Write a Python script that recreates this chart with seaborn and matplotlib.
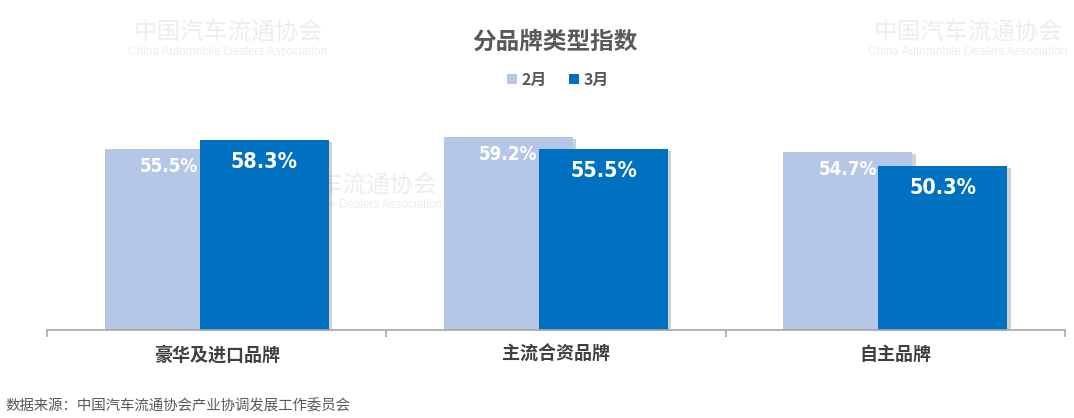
import matplotlib
matplotlib.use("Agg")
import matplotlib.pyplot as plt
import matplotlib.patheffects as pe
from matplotlib.patches import Patch
import seaborn as sns
import pandas as pd

categories = ["豪华及进口品牌", "主流合资品牌", "自主品牌"]
months = ["2月", "3月"]
feb_values = [55.5, 59.2, 54.7]
mar_values = [58.3, 55.5, 50.3]
colors = ["#B4C7E7", "#0070C0"]

title = "分品牌类型指数"
source = "数据来源：中国汽车流通协会产业协调发展工作委员会"
wm_cn = "中国汽车流通协会"
wm_en = "China Automobile Dealers Association"

df = pd.DataFrame({
    "cat": categories * 2,
    "month": [months[0]] * 3 + [months[1]] * 3,
    "val": feb_values + mar_values,
})

sns.set_theme(style="white")
CJK = ["Noto Sans CJK SC", "DejaVu Sans"]
plt.rcParams["font.family"] = CJK

fig = plt.figure(figsize=(10.74, 4.18), dpi=100)
ax = fig.add_axes([47 / 1074, 88 / 418, 1018 / 1074, 228 / 418])
ax.set_facecolor("none")

sns.barplot(data=df, x="cat", y="val", hue="month", palette=colors,
            width=0.56, dodge=True, ax=ax, legend=False, saturation=1,
            errorbar=None)

shadow = [pe.SimplePatchShadow(offset=(2.5, -1.5), shadow_rgbFace="#7F7F7F", alpha=0.35), pe.Normal()]
bar_w = 0.38
for p in ax.patches:
    c = p.get_x() + p.get_width() / 2
    p.set_x(c - bar_w / 2)
    p.set_width(bar_w)
    p.set_path_effects(shadow)
    p.set_edgecolor("none")

for j, cont in enumerate(ax.containers):
    vals = feb_values if j == 0 else mar_values
    size = 13.5 if j == 0 else 15.5
    off = -12.5 if j == 0 else -16
    for p, v in zip(cont.patches, vals):
        ax.annotate(f"{v:.1f}%", (p.get_x() + p.get_width() / 2, p.get_height()),
                    xytext=(0, off), textcoords="offset points",
                    ha="center", va="center", color="white", fontsize=size,
                    fontweight="bold", fontstretch="condensed",
                    family=["DejaVu Sans"], zorder=5)

ax.set_ylim(0, 70)
ax.set_xlim(-0.5, 2.5)
ax.set_xlabel("")
ax.set_ylabel("")
ax.set_yticks([])
for s in ["top", "right", "left"]:
    ax.spines[s].set_visible(False)
ax.spines["bottom"].set_color("#A6A6A6")
ax.spines["bottom"].set_linewidth(1.2)
ax.set_xticks([0, 1, 2])
ax.set_xticklabels(categories, fontsize=13, fontweight="bold", color="#404040")
ax.tick_params(axis="x", which="major", length=0, pad=11)
ax.set_xticks([-0.5, 0.5, 1.5, 2.5], minor=True)
ax.tick_params(axis="x", which="minor", length=5, color="#A6A6A6", width=1.2, direction="out")
ax.tick_params(axis="x", which="both", bottom=True)

fig.text(555 / 1074, 1 - 42 / 418, title, ha="center", va="center",
         fontsize=17, fontweight="bold", color="#595959")
handles = [Patch(facecolor=c, edgecolor="none") for c in colors]
leg = fig.legend(handles, months, loc="center", bbox_to_anchor=(558 / 1074, 1 - 80 / 418),
                 ncol=2, frameon=False, prop={"size": 11.5, "weight": "bold", "family": CJK},
                 handlelength=0.6, handleheight=0.6, handletextpad=0.3, columnspacing=1.4)
for t in leg.get_texts():
    t.set_color("#595959")

fig.text(5 / 1074, 1 - 406 / 418, source, ha="left", va="center",
         fontsize=10.4, color="#595959")

# faint watermarks (drawn behind the bars)
for x, y in [(228, 32), (968, 32), (343, 185)]:
    fig.text(x / 1074, 1 - y / 418, wm_cn, ha="center", va="center",
             fontsize=17, color="#EDEDED", zorder=-1)
    fig.text(x / 1074, 1 - (y + 20) / 418, wm_en,
             ha="center", va="center", fontsize=8.5, color="#EDEDED", zorder=-1,
             family=["Liberation Sans", "DejaVu Sans"])

fig.savefig("out.png", dpi=100, facecolor="white")
